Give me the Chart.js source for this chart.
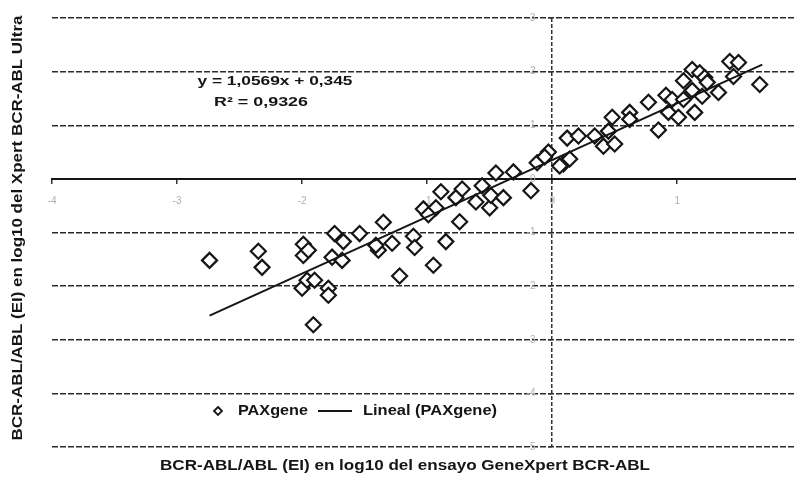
<!DOCTYPE html>
<html>
<head>
<meta charset="utf-8">
<script src="https://cdn.jsdelivr.net/npm/chart.js@4.4.0/dist/chart.umd.min.js"></script>
<style>
  html, body { margin: 0; padding: 0; background: #fff; }
</style>
</head>
<body>
<canvas id="chart1" width="796" height="481"></canvas>
<script>
// PAXgene samples: GeneXpert (x) vs Xpert Ultra (y), log10
const paxX = [-2.74, -2.35, -2.32, -1.99, -1.99, -1.95, -2.00, -1.96, -1.90, -1.79,
              -1.79, -1.91, -1.74, -1.67, -1.76, -1.68, -1.54, -1.35, -1.39, -1.41,
              -1.28, -1.11, -1.10, -0.95, -1.22, -0.85, -1.03, -0.93, -0.99, -0.89,
              -0.74, -0.77, -0.72, -0.61, -0.56, -0.50, -0.49, -0.39, -0.45, -0.31,
              -0.17, -0.12, -0.03, -0.06, 0.09, 0.14, 0.12, 0.21, 0.34, 0.41,
              0.50, 0.45, 0.48, 0.62, 0.62, 0.77, 0.85, 0.91, 0.96, 0.93,
              1.01, 1.05, 1.05, 1.12, 1.12, 1.18, 1.22, 1.24, 1.20, 1.14,
              1.33, 1.42, 1.49, 1.45, 1.66, 0.06];
const paxY = [-1.52, -1.35, -1.65, -1.22, -1.43, -1.33, -2.04, -1.89, -1.89, -2.04,
              -2.17, -2.72, -1.02, -1.17, -1.46, -1.52, -1.02, -0.81, -1.33, -1.24,
              -1.20, -1.07, -1.28, -1.61, -1.81, -1.17, -0.56, -0.54, -0.67, -0.24,
              -0.80, -0.35, -0.19, -0.43, -0.13, -0.54, -0.31, -0.35, 0.11, 0.13,
              -0.22, 0.30, 0.50, 0.41, 0.28, 0.37, 0.76, 0.80, 0.80, 0.61,
              0.65, 0.89, 1.15, 1.24, 1.11, 1.43, 0.91, 1.56, 1.48, 1.24,
              1.15, 1.48, 1.83, 2.04, 1.65, 1.98, 1.89, 1.80, 1.54, 1.24,
              1.61, 2.19, 2.17, 1.91, 1.76, 0.24];

// linear trend line ends, as drawn
const trendX = [-2.74, 1.68];
const trendY = [-2.55, 2.13];

const xTicks = [-4, -3, -2, -1, 0, 1];
const yTicks = [3, 2, 1, 0, -1, -2, -3, -4, -5];

const eqLines = ['y = 1,0569x + 0,345', 'R² = 0,9326'];
const xTitle = 'BCR-ABL/ABL (EI) en log10 del ensayo GeneXpert BCR-ABL';
const yTitle = 'BCR-ABL/ABL (EI) en log10 del Xpert BCR-ABL Ultra';

const ink = '#151515';
const font = 'bold 15px "Liberation Sans", Arial, sans-serif';

// the scan is a bit wider than the text, so stretch it to the measured width
function wideText(ctx, text, x, y, width, align) {
    const w = ctx.measureText(text).width;
    const k = width / w;
    ctx.save();
    ctx.translate(x, y);
    ctx.scale(k, 1);
    ctx.textAlign = 'left';
    const x0 = align === 'center' ? -w / 2 : 0;
    ctx.fillText(text, x0, 0);
    ctx.restore();
}

// titles, equation and legend drawn on the canvas
const extras = {
    id: 'extras',
    afterDraw(chart) {
        const ctx = chart.ctx;
        ctx.save();
        ctx.fillStyle = ink;
        ctx.textBaseline = 'middle';

        // axis titles
        ctx.font = font;
        wideText(ctx, xTitle, 405, 466, 490, 'center');
        ctx.save();
        ctx.translate(18, 228);
        ctx.rotate(-Math.PI / 2);
        ctx.font = 'bold 14px "Liberation Sans", Arial, sans-serif';
        wideText(ctx, yTitle, 0, 0, 425, 'center');
        ctx.restore();

        // regression equation
        ctx.font = 'bold 13px "Liberation Sans", Arial, sans-serif';
        wideText(ctx, eqLines[0], 275, 81, 155, 'center');
        wideText(ctx, eqLines[1], 261, 102, 94, 'center');

        // legend
        const ds = chart.data.datasets;
        const ly = 411;
        ctx.font = font;
        ctx.strokeStyle = ink;
        ctx.lineWidth = 1.8;
        ctx.beginPath();
        ctx.moveTo(218, ly - 4); ctx.lineTo(222, ly); ctx.lineTo(218, ly + 4); ctx.lineTo(214, ly);
        ctx.closePath();
        ctx.stroke();
        wideText(ctx, ds[0].label, 238, ly, 70, 'left');
        ctx.lineWidth = 2;
        ctx.beginPath();
        ctx.moveTo(318, ly); ctx.lineTo(352, ly);
        ctx.stroke();
        wideText(ctx, ds[1].label, 363, ly, 134, 'left');
        ctx.restore();
    }
};

const ctx = document.getElementById('chart1').getContext('2d');
new Chart(ctx, {
    type: 'scatter',
    data: {
        datasets: [{
            label: 'PAXgene',
            data: paxX.map((x, i) => ({ x, y: paxY[i] })),
            pointStyle: 'rectRot',
            pointRadius: 7.5,
            pointBorderWidth: 2.2,
            borderColor: ink,
            backgroundColor: '#fff',
            order: 2
        }, {
            label: 'Lineal (PAXgene)',
            type: 'line',
            data: trendX.map((x, i) => ({ x, y: trendY[i] })),
            borderColor: ink,
            borderWidth: 2,
            pointRadius: 0,
            fill: false,
            order: 1
        }]
    },
    plugins: [extras],
    options: {
        responsive: false,
        animation: false,
        devicePixelRatio: 1,
        layout: { autoPadding: false, padding: { left: 52, right: 0, top: 18, bottom: 34 } },
        plugins: {
            legend: { display: false },
            tooltip: { enabled: false }
        },
        scales: {
            x: {
                type: 'linear',
                position: { y: 0 },
                min: -4,
                max: 1.95,
                afterBuildTicks: s => { s.ticks = xTicks.map(v => ({ value: v })); },
                grid: {
                    color: c => (c.tick && c.tick.value === 0) ? '#333' : 'rgba(0,0,0,0)',
                    lineWidth: 1.5,
                    tickColor: '#333',
                    tickLength: 4
                },
                border: { display: true, color: ink, width: 2, dash: [4, 2] },
                ticks: { color: '#b0b0b0', font: { size: 10 }, padding: 12, maxRotation: 0 }
            },
            y: {
                type: 'linear',
                position: { x: 0 },
                min: -5,
                max: 3,
                afterBuildTicks: s => { s.ticks = yTicks.map(v => ({ value: v })); },
                grid: {
                    color: '#2a2a2a',
                    lineWidth: 1.5,
                    tickColor: '#333',
                    tickLength: 4
                },
                border: { display: false, dash: [6, 2] },
                ticks: {
                    color: '#b0b0b0',
                    font: { size: 10 },
                    padding: 6,
                    callback: v => v + '      '
                }
            }
        }
    }
});
</script>
</body>
</html>
